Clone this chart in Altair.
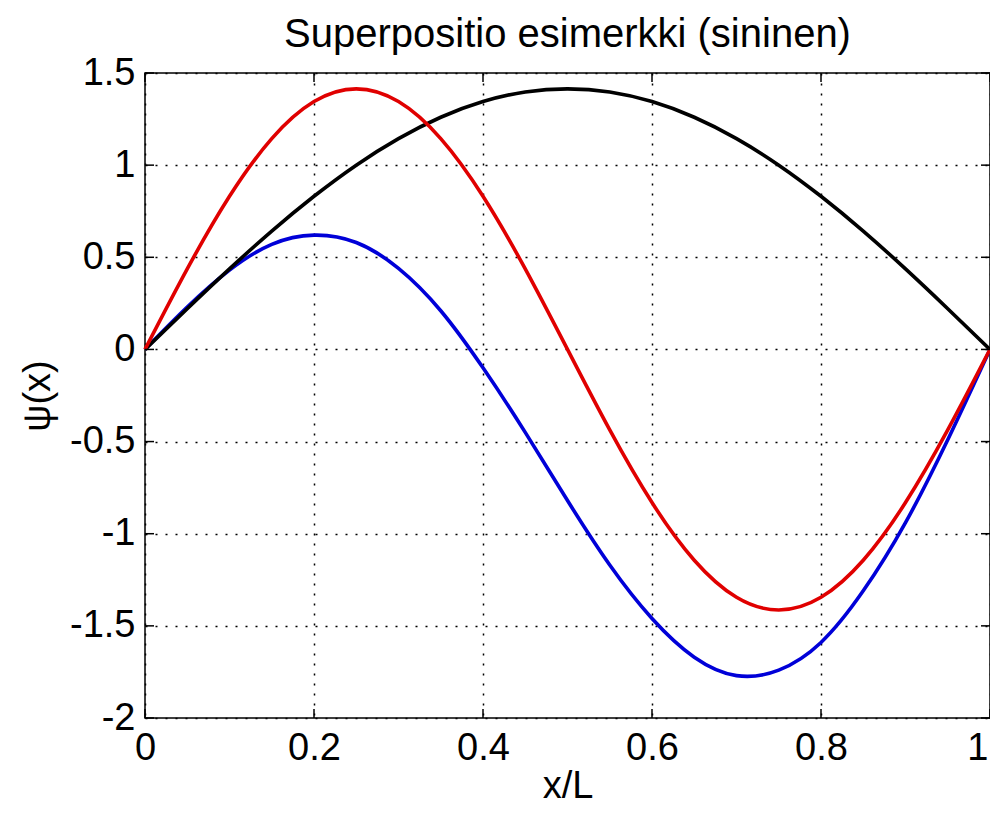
import altair as alt
import pandas as pd

# values
x_vals = [0.0, 0.05, 0.10, 0.15, 0.20, 0.25, 0.30, 0.35, 0.40, 0.45, 0.50,
          0.55, 0.60, 0.65, 0.70, 0.75, 0.80, 0.85, 0.90, 0.95, 1.0]
black_vals = [0.000, 0.221, 0.437, 0.642, 0.831, 1.000, 1.144, 1.260, 1.345, 1.397, 1.414,
              1.397, 1.345, 1.260, 1.144, 1.000, 0.831, 0.642, 0.437, 0.221, 0.000]
red_vals = [0.000, 0.437, 0.831, 1.144, 1.345, 1.414, 1.345, 1.144, 0.831, 0.437, 0.000,
            -0.437, -0.831, -1.144, -1.345, -1.414, -1.345, -1.144, -0.831, -0.437, 0.000]
blue_vals = [0.00, 0.23, 0.43, 0.57, 0.62, 0.58, 0.44, 0.21, -0.10, -0.45, -0.82,
             -1.17, -1.46, -1.67, -1.77, -1.74, -1.59, -1.31, -0.94, -0.49, 0.00]

x_ticks = [0, 0.2, 0.4, 0.6, 0.8, 1]
y_ticks = [-2, -1.5, -1, -0.5, 0, 0.5, 1, 1.5]

W, H = 845, 645
FONT = "Liberation Sans"
TL = 9  # inward tick length

xscale = alt.Scale(domain=[0, 1], nice=False, zero=False)
yscale = alt.Scale(domain=[-2, 1.5], nice=False, zero=False)

x_axis = alt.Axis(values=x_ticks, grid=True, gridDash=[2, 8], gridColor="black",
                  gridWidth=1.5, gridOpacity=1, ticks=False, domain=False,
                  labelExpr="'' + datum.value", labelFont=FONT, labelFontSize=38,
                  labelColor="black", labelPadding=11, labelFlush=False,
                  labelAlign=alt.expr("datum.value == 1 ? 'right' : 'center'"),
                  labelOffset=alt.expr("datum.value == 1 ? -2 : 0"),
                  title="x/L", titleFont=FONT, titleFontSize=38,
                  titleFontWeight="normal", titleColor="black", titlePadding=0)
y_axis = alt.Axis(values=y_ticks, grid=True, gridDash=[2, 8], gridColor="black",
                  gridWidth=1.5, gridOpacity=1, ticks=False, domain=False,
                  labelExpr="'' + datum.value", labelFont=FONT, labelFontSize=38,
                  labelColor="black", labelPadding=10, labelFlush=False,
                  title="ψ(x)", titleFont=FONT, titleFontSize=38,
                  titleFontWeight="normal", titleColor="black", titlePadding=12)


def series(vals, color, with_axes=False):
    df = pd.DataFrame({"x": x_vals, "y": vals})
    if with_axes:
        xe = alt.X("x:Q", scale=xscale, axis=x_axis)
        ye = alt.Y("y:Q", scale=yscale, axis=y_axis)
    else:
        xe = alt.X("x:Q", scale=xscale)
        ye = alt.Y("y:Q", scale=yscale)
    return alt.Chart(df).mark_line(color=color, strokeWidth=3.6,
                                   interpolate="natural").encode(x=xe, y=ye)


xt = pd.DataFrame({"x": x_ticks})
yt = pd.DataFrame({"y": y_ticks})
tick_style = dict(color="black", strokeWidth=1.5)

ticks_bottom = alt.Chart(xt).mark_rule(**tick_style).encode(
    x=alt.X("x:Q", scale=xscale), y=alt.value(H), y2=alt.value(H - TL))
ticks_top = alt.Chart(xt).mark_rule(**tick_style).encode(
    x=alt.X("x:Q", scale=xscale), y=alt.value(0), y2=alt.value(TL))
ticks_left = alt.Chart(yt).mark_rule(**tick_style).encode(
    y=alt.Y("y:Q", scale=yscale), x=alt.value(0), x2=alt.value(TL))
ticks_right = alt.Chart(yt).mark_rule(**tick_style).encode(
    y=alt.Y("y:Q", scale=yscale), x=alt.value(W - TL), x2=alt.value(W))

chart = alt.layer(
    series(blue_vals, "#0000d8", with_axes=True),
    series(black_vals, "#000000"),
    series(red_vals, "#e00000"),
    ticks_bottom, ticks_top, ticks_left, ticks_right,
).properties(
    width=W, height=H,
    title=alt.TitleParams("Superpositio esimerkki (sininen)", font=FONT,
                          fontSize=40, fontWeight="normal", color="black",
                          anchor="middle", frame="group", offset=-1),
    autosize=alt.AutoSizeParams(type="none"),
    padding={"left": 137, "top": 65, "right": 0, "bottom": 88},
    background="white",
).configure_view(stroke="black", strokeWidth=1.5)

chart.save("out.html", embed_options={"renderer": "svg", "actions": False})
